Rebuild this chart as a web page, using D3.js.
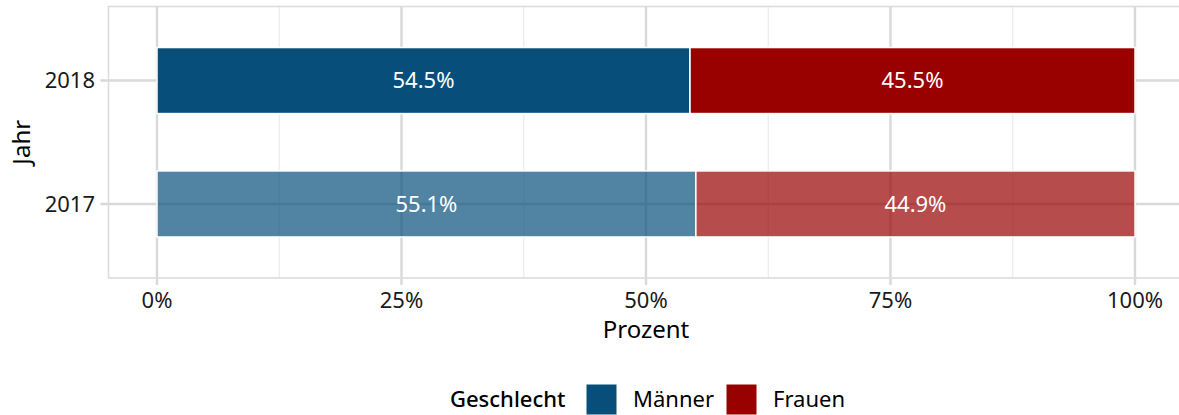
<!DOCTYPE html>
<html>
<head>
<meta charset="utf-8">
<script src="https://cdn.jsdelivr.net/npm/d3@7"></script>
<style>
  body { margin: 0; background: #fff; }
  svg { display: block; font-family: "Noto Sans", sans-serif; }
</style>
</head>
<body>
<svg id="chart" width="1179" height="415"></svg>
<script>
// --- Daten ---
const jahre = ["2018", "2017"];
const anteilMaenner = [0.545, 0.551];
const anteilFrauen = [0.455, 0.449];
const geschlechter = ["Männer", "Frauen"];
const xTicks = [0, 0.25, 0.5, 0.75, 1];
const xMinor = [0.125, 0.375, 0.625, 0.875];

const farben = { "Männer": "#074f7a", "Frauen": "#990000" };
// das aktuelle Jahr voll, das Vorjahr blasser
const deckkraft = { "2018": 1, "2017": 0.7 };

const svg = d3.select("#chart");

const panel = { left: 108.5, right: 1186, top: 6.5, bottom: 278 };

const x = d3.scaleLinear().domain([0, 1]).range([157, 1135]);
const y = d3.scalePoint().domain(jahre).range([panel.top, panel.bottom]).padding(0.6);
const dicke = y.step() * 0.535;

const fmt = d3.format(".1%");

// Zeilen aufbauen: gestapelt Männer, dann Frauen
const zeilen = jahre.map((j, i) => ({ jahr: j, "Männer": anteilMaenner[i], "Frauen": anteilFrauen[i] }));
const stapel = d3.stack().keys(geschlechter)(zeilen);

// --- Gitter ---
const g = svg.append("g");

g.selectAll("line.minor")
  .data(xMinor)
  .join("line")
  .attr("x1", d => x(d)).attr("x2", d => x(d))
  .attr("y1", panel.top).attr("y2", panel.bottom)
  .attr("stroke", "#ebebeb").attr("stroke-width", 1.2);

g.selectAll("line.majorx")
  .data(xTicks)
  .join("line")
  .attr("x1", d => x(d)).attr("x2", d => x(d))
  .attr("y1", panel.top).attr("y2", panel.bottom + 7)
  .attr("stroke", "#d9d9d9").attr("stroke-width", 2.4);

g.selectAll("line.majory")
  .data(jahre)
  .join("line")
  .attr("x1", panel.left - 8).attr("x2", panel.right)
  .attr("y1", d => y(d)).attr("y2", d => y(d))
  .attr("stroke", "#d9d9d9").attr("stroke-width", 2.4);

// Rahmen
g.append("rect")
  .attr("x", panel.left).attr("y", panel.top)
  .attr("width", panel.right - panel.left).attr("height", panel.bottom - panel.top)
  .attr("fill", "none").attr("stroke", "#dcdcdc").attr("stroke-width", 1.6);

// --- Balken ---
stapel.forEach(serie => {
  svg.append("g")
    .selectAll("rect")
    .data(serie)
    .join("rect")
    .attr("x", d => x(d[0]))
    .attr("width", d => x(d[1]) - x(d[0]))
    .attr("y", d => y(d.data.jahr) - dicke / 2)
    .attr("height", dicke)
    .attr("fill", farben[serie.key])
    .attr("fill-opacity", d => deckkraft[d.data.jahr])
    .attr("stroke", "#fff").attr("stroke-width", 1.5);

  svg.append("g")
    .selectAll("text")
    .data(serie)
    .join("text")
    .attr("x", d => x((d[0] + d[1]) / 2))
    .attr("y", d => y(d.data.jahr))
    .attr("dy", "0.35em")
    .attr("text-anchor", "middle")
    .attr("fill", "#fff")
    .attr("font-size", 22)
    .text(d => fmt(d[1] - d[0]));
});

// --- Achsenbeschriftungen ---
svg.append("g")
  .selectAll("text")
  .data(xTicks)
  .join("text")
  .attr("x", d => x(d))
  .attr("y", 308)
  .attr("text-anchor", "middle")
  .attr("fill", "#1a1a1a")
  .attr("font-size", 22)
  .text(d => d3.format(".0%")(d));

svg.append("g")
  .selectAll("text")
  .data(jahre)
  .join("text")
  .attr("x", 95)
  .attr("y", d => y(d))
  .attr("dy", "0.35em")
  .attr("text-anchor", "end")
  .attr("fill", "#1a1a1a")
  .attr("font-size", 22)
  .text(d => d);

svg.append("text")
  .attr("x", x(0.5)).attr("y", 338)
  .attr("text-anchor", "middle")
  .attr("font-size", 24)
  .text("Prozent");

svg.append("text")
  .attr("transform", "translate(30," + (panel.top + panel.bottom) / 2 + ") rotate(-90)")
  .attr("text-anchor", "middle")
  .attr("font-size", 24)
  .text("Jahr");

// --- Legende ---
const leg = svg.append("g");
leg.append("text")
  .attr("x", 450).attr("y", 407)
  .attr("font-size", 22).attr("font-weight", 500)
  .text("Geschlecht");

const legX = [586, 726];
geschlechter.forEach((k, i) => {
  leg.append("rect")
    .attr("x", legX[i]).attr("y", 384)
    .attr("width", 31).attr("height", 31)
    .attr("fill", farben[k])
    .attr("stroke", "#fff").attr("stroke-width", 1);
  leg.append("text")
    .attr("x", legX[i] + 47).attr("y", 407)
    .attr("font-size", 22)
    .text(k);
});
</script>
</body>
</html>
